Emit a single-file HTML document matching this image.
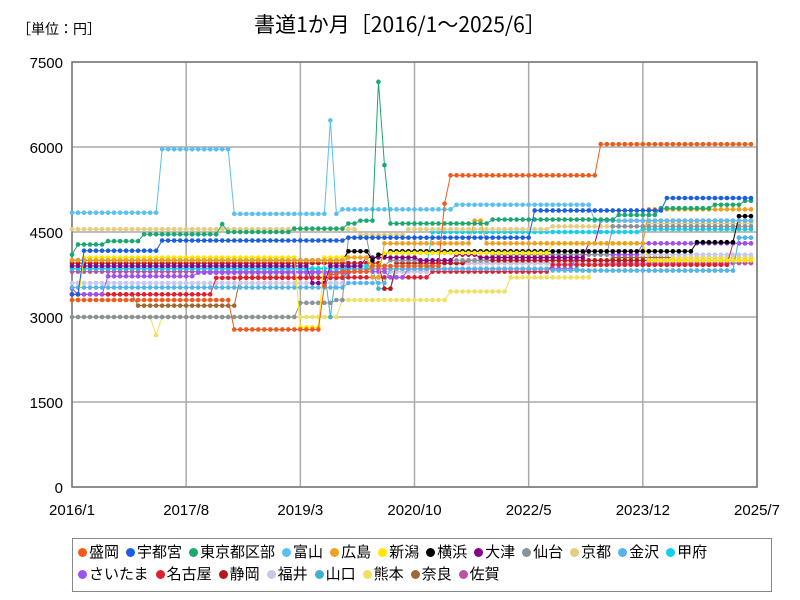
<!DOCTYPE html>
<html><head><meta charset="utf-8">
<style>
body{margin:0;background:#fff;font-family:"Liberation Sans","Noto Sans CJK JP",sans-serif;}
#wrap{position:relative;width:800px;height:600px;overflow:hidden;}
#legend{position:absolute;left:72px;top:538px;width:700px;height:54px;border:1px solid #888;box-sizing:border-box;padding:3px 0 0 5px;font-size:15px;line-height:22px;}
.li{display:inline-block;margin-right:7px;white-space:nowrap;}
.dot{display:inline-block;width:9px;height:9px;border-radius:50%;margin-right:2px;vertical-align:0px;}
</style></head><body>
<div id="wrap">
<svg id="svg" width="800" height="600" style="position:absolute;left:0;top:0"></svg>
<div id="legend"></div>
</div>
<script>
const xLabels=["2016/1","2017/8","2019/3","2020/10","2022/5","2023/12","2025/7"];
const xLabelIdx=[0,19,38,57,76,95,114];
const yTicks=[0,1500,3000,4500,6000,7500];
const names=["盛岡","宇都宮","東京都区部","富山","広島","新潟","横浜","大津","仙台","京都","金沢","甲府","さいたま","名古屋","静岡","福井","山口","熊本","奈良","佐賀"];
const colors=["#f05a1a","#1a5fe0","#1aa870","#5ac0f0","#f0a020","#ffe800","#000000","#8b008b","#8a929a","#e6cc80","#55b5e8","#10d0f0","#a050f0","#e02030","#b81818","#c8c8ea","#40b0d8","#f0e060","#a06830","#c050a0"];
// change points: [month index from 2016/1, value]
const s0=[[0,3300],[27,2780],[42,3550],[43,3750],[45,3800],[50,3900],[62,5000],[63,5500],[88,6050]];
const s1=[[0,3400],[2,4170],[15,4350],[46,4400],[77,4880],[99,5100]];
const s2=[[0,4100],[1,4280],[6,4340],[12,4460],[25,4640],[26,4500],[37,4560],[46,4650],[48,4700],[51,7150],[52,5680],[53,4650],[70,4720],[91,4800],[98,4920],[107,4980],[112,5050]];
const s3=[[0,4840],[15,5960],[27,4820],[43,6470],[44,4820],[45,4900],[64,4980],[87,4700]];
const s4=[[0,4000],[46,4050],[50,3700],[52,4300],[66,4300],[67,4700],[69,4300],[96,4900]];
const s5=[[0,3300],[2,4050],[38,2820],[42,4050],[50,3900],[52,4130],[80,4300],[96,4000]];
const s6=[[0,4000],[46,4160],[50,4000],[51,4100],[53,4160],[104,4320],[111,4780]];
const s7=[[0,3900],[40,3600],[43,3900],[49,4050],[58,4000],[64,4100],[68,4050],[86,4300],[88,4700]];
const s8=[[0,3000],[38,3250],[44,3300],[46,4400],[50,3900],[53,4000],[70,4100],[90,4600]];
const s9=[[0,4550],[48,4450],[56,4550],[80,4600],[96,4650]];
const s10=[[0,3520],[46,3600],[53,3850],[80,3820],[111,4400]];
const s11=[[0,3860],[47,3900],[60,4500],[95,4550]];
const s12=[[0,3500],[1,3400],[6,3720],[21,3780],[47,3800],[53,3700],[56,3850],[84,4100],[95,4300]];
const s13=[[0,3400],[24,3690],[46,3700],[50,3700],[60,3800],[80,3920],[110,4300]];
const s14=[[0,3950],[52,3500],[54,3950],[66,4000],[90,4000]];
const s15=[[0,3600],[46,3800],[60,3950],[90,4100]];
const s16=[[0,3850],[43,3000],[44,3850],[51,3500],[54,3850],[85,3820],[111,4400]];
const s17=[[0,3000],[14,2680],[15,3000],[45,3300],[63,3450],[73,3700],[87,4000],[100,4050]];
const s18=[[0,3400],[11,3200],[28,3700],[46,3800],[60,3950],[90,4050]];
const s19=[[0,3800],[46,3850],[60,3950],[90,3950]];
const seriesDefs=[s0,s1,s2,s3,s4,s5,s6,s7,s8,s9,s10,s11,s12,s13,s14,s15,s16,s17,s18,s19];
const N=114;
const X0=72,X1=757,Y0=487,Y1=62;
const xS=i=>X0+i*(X1-X0)/114;
const yS=v=>Y0-v*(Y0-Y1)/7500;
const NS="http://www.w3.org/2000/svg";
const svg=document.getElementById('svg');
function mk(t,a){const e=document.createElementNS(NS,t);for(const k in a)e.setAttribute(k,a[k]);svg.appendChild(e);return e;}
function expand(d){const out=[];let k=0;for(let i=0;i<N;i++){while(k+1<d.length&&d[k+1][0]<=i)k++;out.push(d[k][1]);}return out;}
// title
let t=mk('text',{x:400,y:32,'text-anchor':'middle','font-size':21,'font-family':'"Noto Sans CJK JP",sans-serif'});t.textContent="書道1か月［2016/1～2025/6］";


t=mk('text',{x:17,y:34,'font-size':14,'font-family':'"Noto Sans CJK JP",sans-serif'});t.textContent="［単位：円］";


// grid
yTicks.forEach(v=>{const l=mk('line',{x1:X0,x2:X1,y1:yS(v),y2:yS(v),stroke:'#aaa','stroke-width':1.5});


const tx=mk('text',{x:63,y:yS(v)+6,'text-anchor':'end','font-size':15});tx.textContent=v;

});
xLabelIdx.forEach((i,j)=>{const l=mk('line',{x1:xS(i),x2:xS(i),y1:Y1,y2:Y0,stroke:'#aaa','stroke-width':1.5});


const tx=mk('text',{x:xS(i),y:515,'text-anchor':'middle','font-size':15});tx.textContent=xLabels[j];

});
const fr=mk('rect',{x:X0,y:Y1,width:X1-X0,height:Y0-Y1,fill:'none',stroke:'#777','stroke-width':1.5});


// series (draw in reverse so first series on top)
for(let s=seriesDefs.length-1;s>=0;s--){
 const vals=expand(seriesDefs[s]);
 const g=mk('g',{});
 
 
 const pl=document.createElementNS(NS,'polyline');
 pl.setAttribute('points',vals.map((v,i)=>xS(i)+','+yS(v)).join(' '));
 pl.setAttribute('fill','none');pl.setAttribute('stroke',colors[s]);pl.setAttribute('stroke-width','1');
 
 
 g.appendChild(pl);
 vals.forEach((v,i)=>{const c=document.createElementNS(NS,'circle');
  c.setAttribute('cx',xS(i));c.setAttribute('cy',yS(v));c.setAttribute('r','2.3');c.setAttribute('fill',colors[s]);
  
  
  g.appendChild(c);});
}
// legend
const lg=document.getElementById('legend');
names.forEach((n,i)=>{const sp=document.createElement('span');sp.className='li';
 
 
 sp.innerHTML='<span class="dot" style="background:'+colors[i]+'"></span>'+n;
 lg.appendChild(sp);
 if(i==11)lg.appendChild(document.createElement('br'));});
</script>
</body></html>
